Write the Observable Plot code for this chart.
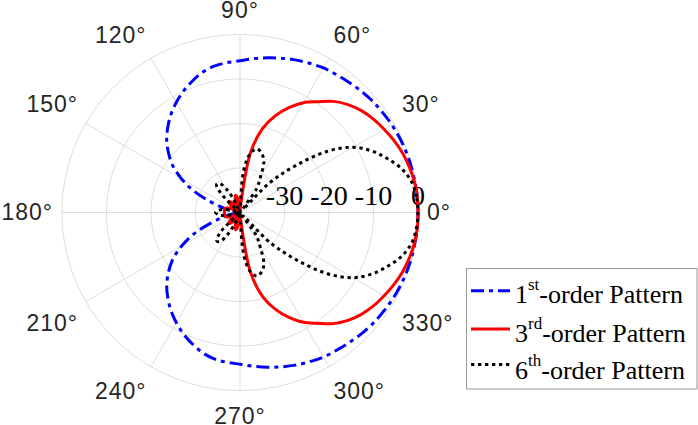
<!DOCTYPE html>
<html><head><meta charset="utf-8">
<script src="https://cdn.jsdelivr.net/npm/d3@7"></script>
<script src="https://cdn.jsdelivr.net/npm/@observablehq/plot@0.6"></script>
<style>body{margin:0;background:#fff}svg{display:block}</style>
</head><body><div id="chart"></div>
<script>
// Angles (degrees) at which the patterns were read
const angles = [0,5,10,15,20,25,30,35,40,45,50,55,60,65,70,75,80,85,90,95,100,105,110,115,120,125,130,135,140,145,150,155,160,165,170,175,
  180,185,190,195,200,205,210,215,220,225,230,235,240,245,250,255,260,265,270,275,280,285,290,295,300,305,310,315,320,325,330,335,340,345,350,355];

// 1st-order pattern (dB)
const first = [0,0,-0.1,-0.15,-0.25,-0.4,-0.6,-0.85,-1.1,-1.45,-1.85,-2.2,-2.5,-3.0,-3.5,-4.1,-4.7,-5.3,-5.9,-6.2,-6.6,-7.4,-8.6,-9.9,-11.4,-13.0,-14.8,-16.7,-19.0,-21.5,-24.8,-28.5,-33.0,-36.3,-38.5,-40,
  -40,-40,-38.5,-36.3,-33.0,-28.5,-24.8,-21.5,-19.0,-16.7,-14.8,-13.0,-11.4,-9.9,-8.6,-7.4,-6.6,-6.2,-5.9,-5.3,-4.7,-4.1,-3.5,-3.0,-2.5,-2.2,-1.85,-1.45,-1.1,-0.85,-0.6,-0.4,-0.25,-0.15,-0.1,0];

// 3rd-order pattern (dB)
const third = [0,0,-0.2,-0.6,-1.1,-1.8,-2.6,-3.4,-4.4,-5.7,-7.4,-9.6,-11.5,-14.0,-16.9,-20.5,-26.3,-38.5,-40,-38,-36.5,-36,-37,-39,-40,-38.5,-37,-36.5,-37,-39,-40,-38,-37,-36.5,-36.5,-36.5,
  -36.5,-36.5,-36.5,-36.5,-37,-38,-40,-39,-37,-36.5,-37,-38.5,-40,-39,-37,-36,-36.5,-38,-40,-38.5,-26.3,-20.5,-16.9,-14.0,-11.5,-9.6,-7.4,-5.7,-4.4,-3.4,-2.6,-1.8,-1.1,-0.6,-0.2,0];

// 6th-order pattern (dB)
const sixth = [0,-0.2,-0.8,-2.3,-4.7,-7.3,-10.7,-16,-23.5,-30.5,-39,-33.5,-30.8,-27.3,-25.8,-25.2,-26.5,-30.5,-40,-40,-40,-40,-40,-37,-34,-32,-31.8,-34,-40,-40,-40,-40,-40,-38,-36,-35,
  -34.5,-35,-36,-38,-40,-40,-40,-40,-40,-34,-31.8,-32,-34,-37,-40,-40,-40,-40,-40,-30.5,-26.5,-25.2,-25.8,-27.3,-30.8,-33.5,-39,-30.5,-23.5,-16,-10.7,-7.3,-4.7,-2.3,-0.8,-0.2];

const seriesNums = ["1", "3", "6"];
const seriesSups = ["st", "rd", "th"];
const seriesRest = "-order Pattern";
const seriesColors = ["#0000ff", "#ff0000", "#000000"];
const seriesDash = ["13,5,4,5", null, "3.3,3.7"];

const radialTicks = [-30, -20, -10, 0];
const gridRings = [-30, -20, -10, 0];
const angleTicks = [0, 30, 60, 90, 120, 150, 180, 210, 240, 270, 300, 330];
const rMin = -40, rMax = 0;

const W = 698, H = 425, CX = 239.5, CY = 212, R = 178;

const rad = db => Math.max(0, (Math.max(db, rMin) - rMin) / (rMax - rMin));
const px = (a, r) => r * Math.cos(a * Math.PI / 180);
const py = (a, r) => r * Math.sin(a * Math.PI / 180);

const seriesVals = [first, third, sixth];
const seriesData = seriesVals.map(v => angles.map((a, i) => ({a, db: v[i]})));

const circleAngles = d3.range(0, 361, 2);

const marks = [];
// grid rings
for (const g of gridRings) {
  marks.push(Plot.line(circleAngles, {x: a => px(a, rad(g)), y: a => py(a, rad(g)), stroke: "#d4d4d4", strokeWidth: 0.8}));
}
// spokes
marks.push(Plot.link(angleTicks, {x1: 0, y1: 0, x2: a => px(a, 1), y2: a => py(a, 1), stroke: "#d4d4d4", strokeWidth: 0.8}));
// radial tick labels
marks.push(Plot.text(radialTicks, {x: d => rad(d), y: 0, text: d => String(d), fontFamily: "Liberation Serif, Times New Roman, serif", fontSize: 28, textAnchor: "middle", lineAnchor: "middle", dy: -16, fill: "#000"}));
// angle labels
const LR = 187 / R;
for (const a of angleTicks) {
  const c = Math.cos(a * Math.PI / 180), s = Math.sin(a * Math.PI / 180);
  const textAnchor = c > 0.01 ? "start" : c < -0.01 ? "end" : "middle";
  const dy = s > 0.01 ? -14.5 : s < -0.01 ? 17.5 : 0;
  marks.push(Plot.text([a], {x: d => px(d, LR), y: d => py(d, LR), text: d => d + "°", fontFamily: "Liberation Sans, Arial, Helvetica, sans-serif", fontSize: 23, textAnchor, lineAnchor: "middle", dy, fill: "#262626"}));
}
// series
seriesData.forEach((data, i) => {
  const opts = {x: d => px(d.a, rad(d.db)), y: d => py(d.a, rad(d.db)), stroke: seriesColors[i], strokeWidth: 3, curve: "catmull-rom-closed", strokeLinecap: "butt", strokeLinejoin: "round"};
  if (seriesDash[i]) opts.strokeDasharray = seriesDash[i];
  marks.push(Plot.line(data, opts));
});

const chart = Plot.plot({
  width: W, height: H,
  marginTop: 0, marginRight: 0, marginBottom: 0, marginLeft: 0,
  x: {domain: [-CX / R, (W - CX) / R], range: [0, W], axis: null},
  y: {domain: [-(H - CY) / R, CY / R], range: [H, 0], axis: null},
  style: {background: "#fff", overflow: "visible"},
  marks
});
document.getElementById("chart").appendChild(chart);

const svg = d3.select(chart);
svg.selectAll("text").filter(function () { return this.textContent.includes("°"); }).attr("letter-spacing", "1px");

// legend
const lg = svg.append("g").attr("text-anchor", "start");
lg.append("rect").attr("x", 466.5).attr("y", 268.5).attr("width", 230.5).attr("height", 120.5)
  .attr("fill", "#fff").attr("stroke", "#999").attr("stroke-width", 1);
const rowLineY = [290.7, 329, 364.5];
const rowBase = [303.3, 341.7, 379];
seriesNums.forEach((n, i) => {
  const ln = lg.append("line").attr("x1", 471).attr("x2", 510).attr("y1", rowLineY[i]).attr("y2", rowLineY[i])
    .attr("stroke", seriesColors[i]).attr("stroke-width", 3);
  if (seriesDash[i]) ln.attr("stroke-dasharray", seriesDash[i]);
  const t = lg.append("text").attr("x", 515).attr("y", rowBase[i]).attr("text-anchor", "start")
    .attr("font-family", "Liberation Serif, Times New Roman, serif").attr("font-size", 26).attr("fill", "#000");
  t.append("tspan").text(n);
  t.append("tspan").attr("font-size", 17).attr("dy", -13).text(seriesSups[i]);
  t.append("tspan").attr("dy", 13).text(seriesRest);
});
</script>
</body></html>
